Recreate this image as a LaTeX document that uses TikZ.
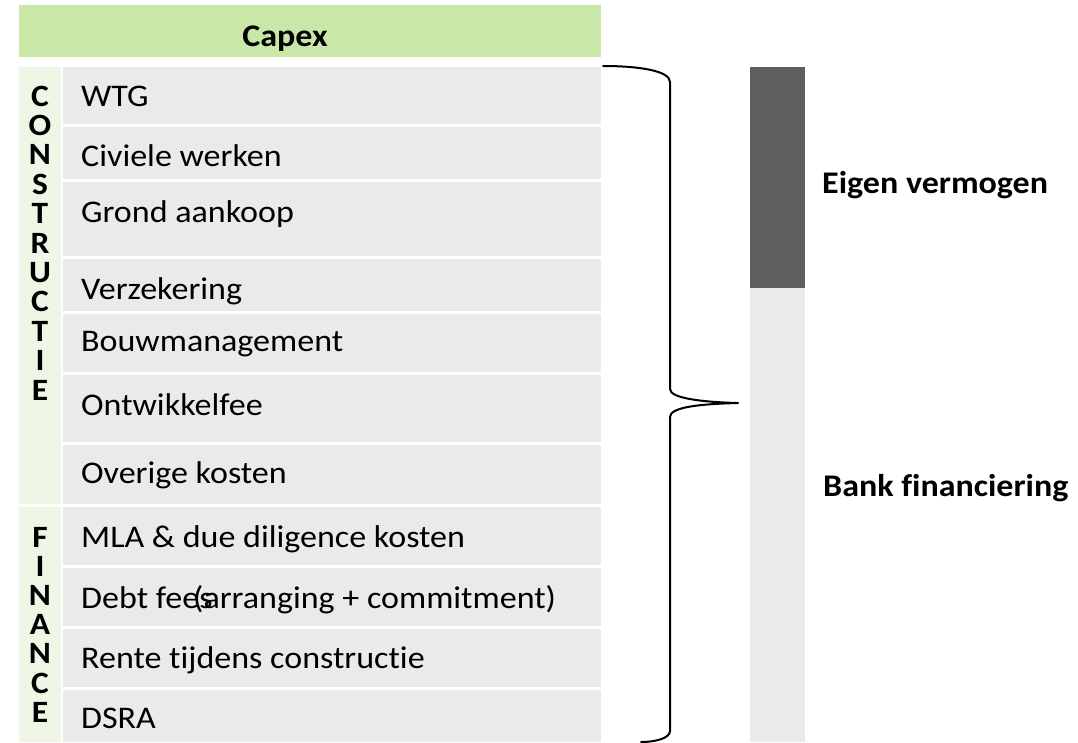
\documentclass[tikz,border=0pt]{standalone}
\usepackage{fontspec}
\setmainfont[Ligatures=NoCommon]{Carlito}
\newcommand{\hstretch}[1]{\scalebox{1.08}[1]{#1}}
\definecolor{hdrgreen}{HTML}{C9E7A7}
\definecolor{sidegreen}{HTML}{EEF6E5}
\definecolor{rowgray}{HTML}{EAEAEA}
\definecolor{bardark}{HTML}{5F5F5F}
\begin{document}
\begin{tikzpicture}[x=1pt,y=-1pt,
  item/.style={anchor=base west, inner sep=0pt, font=\fontsize{31.5}{36}\selectfont},
  letter/.style={anchor=base, inner sep=0pt, font=\fontsize{31}{36}\selectfont\bfseries},
  sidelabel/.style={anchor=base west, inner sep=0pt, font=\fontsize{31.5}{36}\selectfont\bfseries},
  brace/.style={line width=2pt, line cap=round, line join=round}]
\useasboundingbox (0,0) rectangle (1078,742);

% header
\fill[hdrgreen] (19,5) rectangle (601,57);
\node[anchor=base, inner sep=0pt, font=\fontsize{31.5}{36}\selectfont\bfseries] (capex) at (285,46) {\hstretch{Capex}};

% side columns
\fill[sidegreen] (19,67) rectangle (61,503.5);
\fill[sidegreen] (19,506.5) rectangle (61,742);

% cost rows
\foreach \t/\b in {67/123.5, 126.5/178.5, 181.5/255.5, 258.5/310.5, 313.5/371.5,
                   374.5/441.5, 444.5/503.5, 506.5/564.5, 567.5/625.5, 628.5/686.5, 689.5/742}
  \fill[rowgray] (63,\t) rectangle (601,\b);

\node[item] (wtg)  at (81,106) {\hstretch{WTG}};
\node[item] (civ)  at (81,166) {\hstretch{Civiele werken}};
\node[item] (grond) at (81,222) {\hstretch{Grond aankoop}};
\node[item] (verz) at (81,299) {\hstretch{Verzekering}};
\node[item] (bouw) at (81,351) {\hstretch{Bouwmanagement}};
\node[item] (ontw) at (81,415) {\hstretch{Ontwikkelfee}};
\node[item] (over) at (81,483) {\hstretch{Overige kosten}};
\node[item] (mla)  at (81,547) {\hstretch{MLA \& due diligence kosten}};
\node[item] (debt) at (81,608) {\hstretch{Debt fees}};
\node[item] (arr)  at (193,608) {\hstretch{(arranging + commitment)}};
\node[item] (rente) at (81,668) {\hstretch{Rente tijdens constructie}};
\node[item] (dsra) at (81,728) {\hstretch{DSRA}};

% vertical group titles
\foreach \l [count=\i] in {C,O,N,S,T,R,U,C,T,I,E}
  \node[letter] (con\i) at (40,{106+29.4*(\i-1)}) {\hstretch{\l}};
\foreach \l [count=\i] in {F,I,N,A,N,C,E}
  \node[letter] (fin\i) at (40,{547+29.2*(\i-1)}) {\hstretch{\l}};

% curly brace
\draw[brace] (603,66) .. controls (640,66) and (670,71) .. (670,82)
  -- (670,389) .. controls (670,398) and (700,402) .. (738,403)
  .. controls (700,404) and (670,407) .. (670,417)
  -- (670,731) .. controls (670,738) and (656,742) .. (641,742);

% funding bar
\fill[bardark] (750,67) rectangle (805,288);
\fill[rowgray] (750,288) rectangle (805,742);

\node[sidelabel] (eigen) at (822,193) {\hstretch{Eigen vermogen}};
\node[sidelabel] (bank) at (823,496) {\hstretch{Bank financiering}};
\end{tikzpicture}
\end{document}
